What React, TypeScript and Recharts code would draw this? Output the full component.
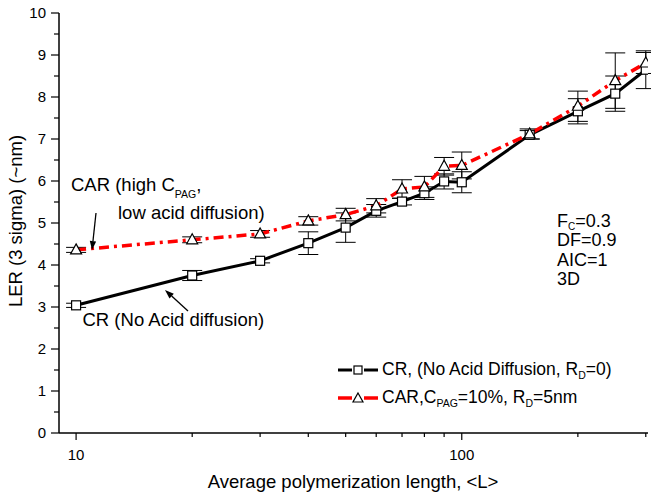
import React from "react";
import { ComposedChart, Line, XAxis, YAxis, ErrorBar } from "recharts";

// average polymerization length <L>
const lengths = [10, 20, 30, 40, 50, 60, 70, 80, 90, 100, 150, 200, 250, 300];
// CR (no acid diffusion)
const crLer = [3.04, 3.75, 4.1, 4.52, 4.89, 5.29, 5.51, 5.71, 5.99, 5.97, 7.1, 7.66, 8.08, 8.65];
const crErr = [0.05, 0.12, 0.05, 0.27, 0.35, 0.15, 0.08, 0.15, 0.18, 0.25, 0.1, 0.3, 0.42, 0.45];
// CAR, Cpag = 10%, Rd = 5nm
const carLer = [4.36, 4.6, 4.74, 5.05, 5.2, 5.41, 5.81, 5.86, 6.35, 6.37, 7.12, 7.78, 8.39, 8.81];
const carErr = [0.06, 0.07, 0.08, 0.1, 0.15, 0.17, 0.22, 0.25, 0.21, 0.32, 0.12, 0.36, 0.66, 0.25];

const xTicks = [10, 20, 30, 40, 50, 60, 70, 80, 90, 100, 200, 300];
const xLabeled = [10, 100];
const yTicks = [0, 0.5, 1, 1.5, 2, 2.5, 3, 3.5, 4, 4.5, 5, 5.5, 6, 6.5, 7, 7.5, 8, 8.5, 9, 9.5, 10];

const data = lengths.map((L, i) => ({
    L,
    cr: crLer[i],
    crErr: crErr[i],
    car: carLer[i],
    carErr: carErr[i],
}));

const FONT = "'Liberation Sans', Arial, Helvetica, sans-serif";
const RED = "#ff0000";

const BottomTick = (props: any) => {
    const { x, y, payload } = props;
    const major = xLabeled.includes(payload.value);
    return (
        <g>
            <line x1={x} x2={x} y1={y} y2={y + (major ? 7 : 4)} stroke="#000" strokeWidth={1.2} />
            {major && (
                <text x={x} y={y + 27} textAnchor="middle" fontSize={15} fontFamily={FONT} fill="#000">
                    {payload.value}
                </text>
            )}
        </g>
    );
};

const TopTick = (props: any) => {
    const { x, y, payload } = props;
    const major = xLabeled.includes(payload.value);
    return <line x1={x} x2={x} y1={y} y2={y + (major ? 7 : 4)} stroke="#000" strokeWidth={1.2} />;
};

const LeftTick = (props: any) => {
    const { x, y, payload } = props;
    const major = Number.isInteger(payload.value);
    return (
        <g>
            <line x1={x - (major ? 8 : 5)} x2={x} y1={y} y2={y} stroke="#000" strokeWidth={1.2} />
            {major && (
                <text x={x - 13} y={y + 5} textAnchor="end" fontSize={15} fontFamily={FONT} fill="#000">
                    {payload.value}
                </text>
            )}
        </g>
    );
};

const RightTick = (props: any) => {
    const { x, y, payload } = props;
    const major = Number.isInteger(payload.value);
    return <line x1={x - (major ? 7 : 4)} x2={x} y1={y} y2={y} stroke="#000" strokeWidth={1.2} />;
};

const SquareDot = (props: any) => {
    const { cx, cy } = props;
    if (cx == null || cy == null) return null;
    return <rect x={cx - 4.5} y={cy - 4.5} width={9} height={9} fill="#fff" stroke="#000" strokeWidth={1.2} />;
};

const TriangleDot = (props: any) => {
    const { cx, cy } = props;
    if (cx == null || cy == null) return null;
    return (
        <polygon
            points={`${cx},${cy - 6} ${cx + 5.5},${cy + 4} ${cx - 5.5},${cy + 4}`}
            fill="#fff"
            stroke="#000"
            strokeWidth={1.2}
        />
    );
};

const Sub = ({ children }: { children: React.ReactNode }) => (
    <span style={{ fontSize: "0.6em", position: "relative", top: "0.4em" }}>{children}</span>
);

const LegendBox = () => (
    <div
        style={{
            position: "absolute",
            left: 337,
            top: 356,
            fontFamily: FONT,
            fontSize: 17.5,
            color: "#000",
            lineHeight: "28px",
            whiteSpace: "nowrap",
        }}
    >
        <div style={{ display: "flex", alignItems: "center", height: 28 }}>
            <svg width={45} height={14}>
                <line x1={1} x2={15} y1={7} y2={7} stroke="#000" strokeWidth={3} />
                <line x1={27} x2={41} y1={7} y2={7} stroke="#000" strokeWidth={3} />
                <rect x={17} y={3} width={8} height={8} fill="#fff" stroke="#000" strokeWidth={1.2} />
            </svg>
            <span>
                CR, (No Acid Diffusion, R<Sub>D</Sub>=0)
            </span>
        </div>
        <div style={{ display: "flex", alignItems: "center", height: 28 }}>
            <svg width={45} height={14}>
                <line x1={1} x2={15} y1={7} y2={7} stroke={RED} strokeWidth={3.5} />
                <line x1={27} x2={41} y1={7} y2={7} stroke={RED} strokeWidth={3.5} />
                <polygon points="21,2 26,11 16,11" fill="#fff" stroke="#000" strokeWidth={1.2} />
            </svg>
            <span>
                CAR,C<Sub>PAG</Sub>=10%, R<Sub>D</Sub>=5nm
            </span>
        </div>
    </div>
);

const Arrow = ({ x1, y1, x2, y2 }: { x1: number; y1: number; x2: number; y2: number }) => {
    const dx = x2 - x1;
    const dy = y2 - y1;
    const len = Math.sqrt(dx * dx + dy * dy);
    const ux = dx / len;
    const uy = dy / len;
    const hl = 9;
    const hw = 3.2;
    const bx = x2 - ux * hl;
    const by = y2 - uy * hl;
    return (
        <g>
            <line x1={x1} y1={y1} x2={bx} y2={by} stroke="#000" strokeWidth={1.3} />
            <polygon
                points={`${x2},${y2} ${bx - uy * hw},${by + ux * hw} ${bx + uy * hw},${by - ux * hw}`}
                fill="#000"
            />
        </g>
    );
};

export default function App() {
    return (
        <div style={{ position: "absolute", left: 0, top: 0, width: 651, height: 496, background: "#fff" }}>
            <ComposedChart width={651} height={496} data={data} margin={{ top: 13, right: 3, bottom: 0, left: 0 }}>
                <XAxis
                    dataKey="L"
                    type="number"
                    scale="log"
                    domain={[9.03, 304]}
                    allowDataOverflow
                    ticks={xTicks}
                    interval={0}
                    height={63}
                    tickSize={0}
                    tickMargin={0}
                    tickLine={false}
                    tick={<BottomTick />}
                    axisLine={{ stroke: "#000", strokeWidth: 1.5 }}
                />
                <XAxis
                    xAxisId="top"
                    orientation="top"
                    dataKey="L"
                    type="number"
                    scale="log"
                    domain={[9.03, 304]}
                    allowDataOverflow
                    ticks={xTicks}
                    interval={0}
                    height={0}
                    tickSize={0}
                    tickMargin={0}
                    tickLine={false}
                    tick={<TopTick />}
                    axisLine={{ stroke: "#000", strokeWidth: 1.5 }}
                />
                <YAxis
                    type="number"
                    domain={[0, 10]}
                    ticks={yTicks}
                    interval={0}
                    width={59}
                    tickSize={0}
                    tickMargin={0}
                    tickLine={false}
                    tick={<LeftTick />}
                    axisLine={{ stroke: "#000", strokeWidth: 1.5 }}
                />
                <YAxis
                    yAxisId="right"
                    orientation="right"
                    type="number"
                    domain={[0, 10]}
                    ticks={yTicks}
                    interval={0}
                    width={0}
                    tickSize={0}
                    tickMargin={0}
                    tickLine={false}
                    tick={<RightTick />}
                    axisLine={{ stroke: "#000", strokeWidth: 1.5 }}
                />
                <Line
                    dataKey="cr"
                    stroke="#000"
                    strokeWidth={3}
                    dot={<SquareDot />}
                    activeDot={false}
                    isAnimationActive={false}
                >
                    <ErrorBar dataKey="crErr" width={10} stroke="#000" strokeWidth={1} direction="y" />
                </Line>
                <Line
                    dataKey="car"
                    stroke={RED}
                    strokeWidth={3.5}
                    strokeDasharray="10 5 3 5"
                    dot={<TriangleDot />}
                    activeDot={false}
                    isAnimationActive={false}
                >
                    <ErrorBar dataKey="carErr" width={10} stroke="#000" strokeWidth={1} direction="y" />
                </Line>
            </ComposedChart>
            <LegendBox />
            <svg
                width={651}
                height={496}
                style={{ position: "absolute", left: 0, top: 0, pointerEvents: "none" }}
                fontFamily={FONT}
                fill="#000"
            >
                <text transform="translate(22,221) rotate(-90)" textAnchor="middle" fontSize={18.5}>
                    LER (3 sigma) (~nm)
                </text>
                <text x={353} y={488} textAnchor="middle" fontSize={18.5}>
                    Average polymerization length, &lt;L&gt;
                </text>
                <text x={71} y={190.5} fontSize={18.5}>
                    CAR (high C
                    <tspan fontSize={10.5} dy={7}>PAG</tspan>
                    <tspan dy={-7}>,</tspan>
                </text>
                <text x={118} y={219} fontSize={18.5}>
                    low acid diffusion)
                </text>
                <Arrow x1={96} y1={213} x2={92} y2={250} />
                <text x={82.5} y={326} fontSize={18.5}>
                    CR (No Acid diffusion)
                </text>
                <Arrow x1={188} y1={311} x2={165} y2={290} />
                <text x={557} y={226.5} fontSize={18}>
                    F<tspan fontSize={10} dy={3.5}>C</tspan>
                    <tspan dy={-3.5}>=0.3</tspan>
                </text>
                <text x={557} y={246} fontSize={18}>
                    DF=0.9
                </text>
                <text x={557} y={265.5} fontSize={18}>
                    AIC=1
                </text>
                <text x={557} y={285} fontSize={18}>
                    3D
                </text>
            </svg>
        </div>
    );
}
